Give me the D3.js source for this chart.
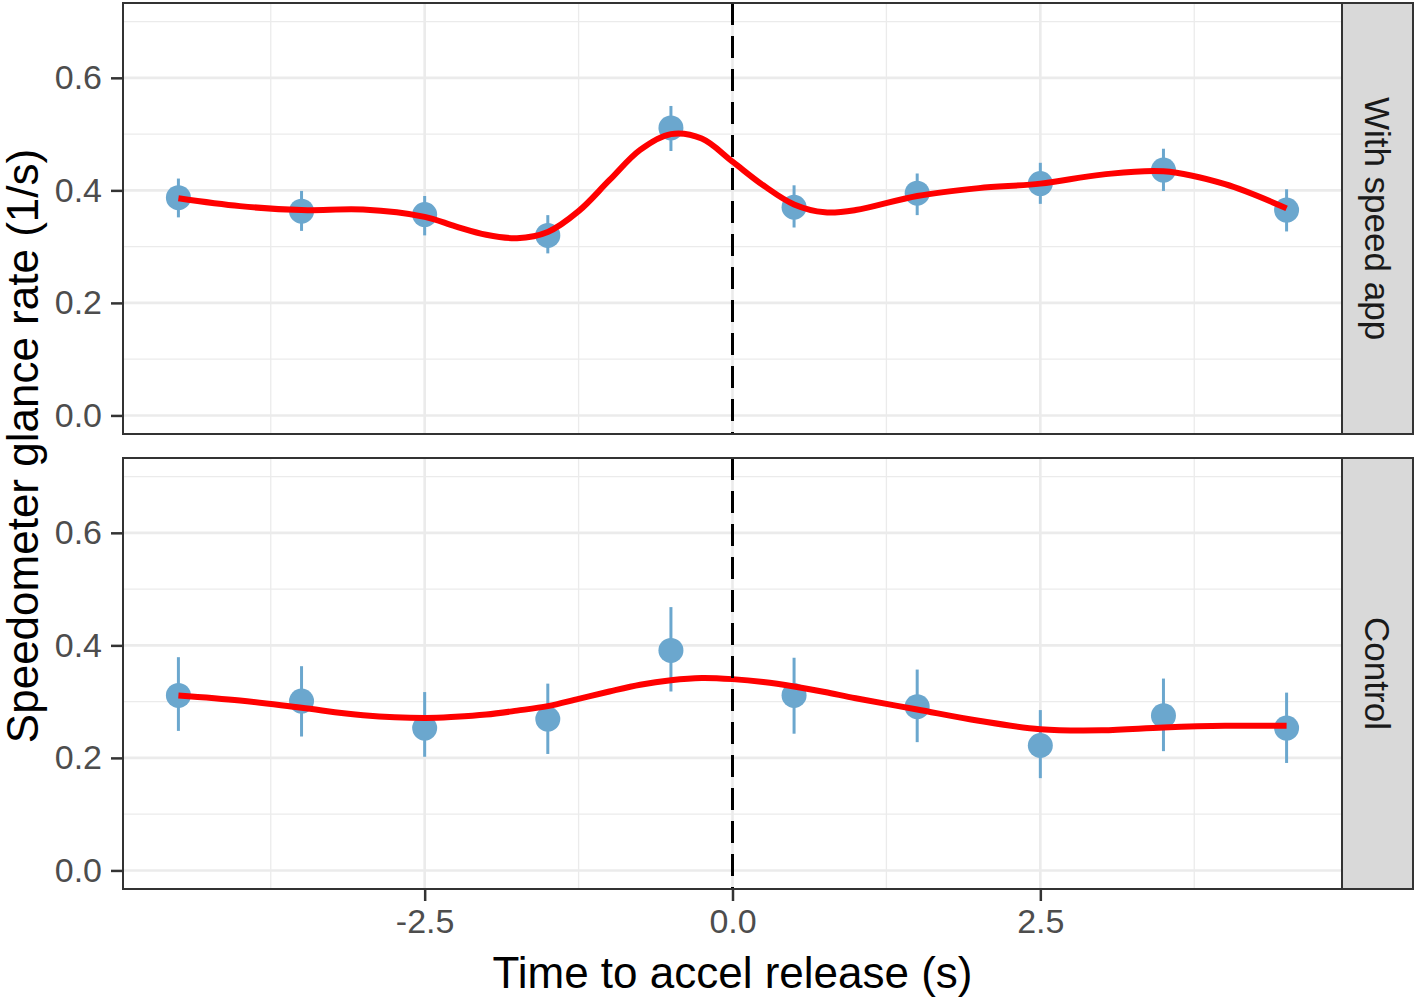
<!DOCTYPE html>
<html>
<head>
<meta charset="utf-8">
<script src="https://cdn.jsdelivr.net/npm/d3@7"></script>
<style>
  body { margin: 0; background: #fff; }
  text { font-family: "Liberation Sans", Arial, Helvetica, sans-serif; }
</style>
</head>
<body>
<div id="chart"></div>
<script>
// time bins (s) relative to accel release
var timeBins = [-4.5, -3.5, -2.5, -1.5, -0.5, 0.5, 1.5, 2.5, 3.5, 4.5];

// facet labels
var facetNames = ["With speed app", "Control"];

// glance rate means and error bar ends, with speed app
var appMean  = [0.387, 0.363, 0.357, 0.320, 0.511, 0.370, 0.395, 0.412, 0.436, 0.365];
var appLower = [0.352, 0.328, 0.320, 0.288, 0.470, 0.334, 0.356, 0.376, 0.399, 0.327];
var appUpper = [0.421, 0.399, 0.390, 0.356, 0.550, 0.409, 0.430, 0.449, 0.474, 0.402];

// control group
var ctrlMean  = [0.311, 0.301, 0.253, 0.269, 0.391, 0.311, 0.291, 0.222, 0.275, 0.253];
var ctrlLower = [0.248, 0.238, 0.202, 0.207, 0.318, 0.243, 0.228, 0.164, 0.212, 0.191];
var ctrlUpper = [0.379, 0.363, 0.317, 0.332, 0.468, 0.378, 0.357, 0.285, 0.341, 0.316];

// smoothed trend
var smoothX    = [-4.5, -4, -3.5, -3, -2.5, -2.25, -2, -1.75, -1.5, -1.25, -1, -0.75, -0.5, -0.25, 0, 0.25, 0.5, 0.75, 1, 1.5, 2, 2.5, 3, 3.5, 4, 4.5];
var appSmooth  = [0.386, 0.372, 0.365, 0.366, 0.353, 0.336, 0.321, 0.315, 0.326, 0.363, 0.418, 0.472, 0.500, 0.492, 0.451, 0.409, 0.375, 0.361, 0.365, 0.390, 0.404, 0.412, 0.428, 0.434, 0.411, 0.368];
var ctrlSmooth = [0.311, 0.302, 0.289, 0.276, 0.271, 0.273, 0.277, 0.284, 0.292, 0.305, 0.318, 0.330, 0.338, 0.342, 0.340, 0.335, 0.327, 0.317, 0.306, 0.286, 0.266, 0.251, 0.249, 0.254, 0.257, 0.257];

// tick values
var xTicks = [-2.5, 0, 2.5];
var xMinor = [-3.75, -1.25, 1.25, 3.75];
var yTicks = [0, 0.2, 0.4, 0.6];
var yMinor = [0.1, 0.3, 0.5, 0.7];

var svgWidth = 1418;
var svgHeight = 1002;

var panelLeft = 123;
var panelRight = 1342;
var stripWidth = 71;
var panelHeight = 431;
var panelTops = [3, 458];

var svg = d3.select("#chart")
  .append("svg")
  .attr("width", svgWidth)
  .attr("height", svgHeight);

var xScale = d3.scaleLinear()
  .domain([-4.95, 4.95])
  .range([panelLeft, panelRight]);

var panels = [
  { mean: appMean, lower: appLower, upper: appUpper, smooth: appSmooth },
  { mean: ctrlMean, lower: ctrlLower, upper: ctrlUpper, smooth: ctrlSmooth }
];

var pointColor = "#6ba7ce";

panels.forEach(function(p, i) {
  var top = panelTops[i];
  var yScale = d3.scaleLinear()
    .domain([-0.033, 0.733])
    .range([top + panelHeight, top]);

  var g = svg.append("g");

  // background
  g.append("rect")
    .attr("x", panelLeft)
    .attr("y", top)
    .attr("width", panelRight - panelLeft)
    .attr("height", panelHeight)
    .attr("fill", "white");

  // minor grid
  g.selectAll(".xminor")
    .data(xMinor)
    .enter()
    .append("line")
    .attr("x1", d => xScale(d))
    .attr("x2", d => xScale(d))
    .attr("y1", top)
    .attr("y2", top + panelHeight)
    .attr("stroke", "#ebebeb")
    .attr("stroke-width", 1.3);

  g.selectAll(".yminor")
    .data(yMinor)
    .enter()
    .append("line")
    .attr("x1", panelLeft)
    .attr("x2", panelRight)
    .attr("y1", d => yScale(d))
    .attr("y2", d => yScale(d))
    .attr("stroke", "#ebebeb")
    .attr("stroke-width", 1.3);

  // major grid
  g.selectAll(".xmajor")
    .data(xTicks)
    .enter()
    .append("line")
    .attr("x1", d => xScale(d))
    .attr("x2", d => xScale(d))
    .attr("y1", top)
    .attr("y2", top + panelHeight)
    .attr("stroke", "#ebebeb")
    .attr("stroke-width", 2.6);

  g.selectAll(".ymajor")
    .data(yTicks)
    .enter()
    .append("line")
    .attr("x1", panelLeft)
    .attr("x2", panelRight)
    .attr("y1", d => yScale(d))
    .attr("y2", d => yScale(d))
    .attr("stroke", "#ebebeb")
    .attr("stroke-width", 2.6);

  // error bars
  g.selectAll(".err")
    .data(timeBins)
    .enter()
    .append("line")
    .attr("x1", d => xScale(d))
    .attr("x2", d => xScale(d))
    .attr("y1", (d, k) => yScale(p.lower[k]))
    .attr("y2", (d, k) => yScale(p.upper[k]))
    .attr("stroke", pointColor)
    .attr("stroke-width", 3);

  // points
  g.selectAll(".pt")
    .data(timeBins)
    .enter()
    .append("circle")
    .attr("cx", d => xScale(d))
    .attr("cy", (d, k) => yScale(p.mean[k]))
    .attr("r", 12.5)
    .attr("fill", pointColor);

  // smooth
  var line = d3.line()
    .x(d => xScale(d))
    .y((d, k) => yScale(p.smooth[k]))
    .curve(d3.curveCatmullRom.alpha(0.5));

  g.append("path")
    .datum(smoothX)
    .attr("d", line)
    .attr("fill", "none")
    .attr("stroke", "#ff0000")
    .attr("stroke-width", 6);

  // dashed line at release
  g.append("line")
    .attr("x1", xScale(0))
    .attr("x2", xScale(0))
    .attr("y1", top)
    .attr("y2", top + panelHeight)
    .attr("stroke", "black")
    .attr("stroke-width", 3)
    .attr("stroke-dasharray", "22,11");

  // panel border
  g.append("rect")
    .attr("x", panelLeft)
    .attr("y", top)
    .attr("width", panelRight - panelLeft)
    .attr("height", panelHeight)
    .attr("fill", "none")
    .attr("stroke", "#333333")
    .attr("stroke-width", 2);

  // strip
  g.append("rect")
    .attr("x", panelRight)
    .attr("y", top)
    .attr("width", stripWidth)
    .attr("height", panelHeight)
    .attr("fill", "#d9d9d9")
    .attr("stroke", "#333333")
    .attr("stroke-width", 2);

  g.append("text")
    .attr("transform", `translate(${panelRight + stripWidth / 2}, ${top + panelHeight / 2}) rotate(90)`)
    .attr("text-anchor", "middle")
    .attr("dominant-baseline", "central")
    .attr("font-size", 35)
    .attr("fill", "#1a1a1a")
    .text(facetNames[i]);

  // y axis
  var leftAxis = d3.axisLeft(yScale)
    .tickValues(yTicks)
    .tickFormat(d => d.toFixed(1))
    .tickSize(11)
    .tickPadding(9);

  var yAxisG = g.append("g")
    .attr("transform", `translate(${panelLeft - 1}, 0)`)
    .call(leftAxis);
  yAxisG.select(".domain").remove();
  yAxisG.selectAll("line").attr("stroke", "#333333").attr("stroke-width", 2.5);
  yAxisG.selectAll("text")
    .attr("font-size", 34)
    .attr("fill", "#4d4d4d")
    .attr("font-family", "Liberation Sans, Arial, sans-serif");

  // x axis only under the bottom panel
  if (i === panels.length - 1) {
    var bottomAxis = d3.axisBottom(xScale)
      .tickValues(xTicks)
      .tickFormat(d => d.toFixed(1))
      .tickSize(11)
      .tickPadding(8);

    var xAxisG = g.append("g")
      .attr("transform", `translate(0, ${top + panelHeight + 1})`)
      .call(bottomAxis);
    xAxisG.select(".domain").remove();
    xAxisG.selectAll("line").attr("stroke", "#333333").attr("stroke-width", 2.5);
    xAxisG.selectAll("text")
      .attr("font-size", 34)
      .attr("fill", "#4d4d4d")
      .attr("font-family", "Liberation Sans, Arial, sans-serif");
  }
});

// axis titles
svg.append("text")
  .attr("x", (panelLeft + panelRight) / 2)
  .attr("y", 988)
  .attr("text-anchor", "middle")
  .attr("font-size", 44)
  .attr("fill", "black")
  .text("Time to accel release (s)");

svg.append("text")
  .attr("transform", `translate(38, ${(panelTops[0] + panelTops[1] + panelHeight) / 2}) rotate(-90)`)
  .attr("text-anchor", "middle")
  .attr("font-size", 44)
  .attr("fill", "black")
  .text("Speedometer glance rate (1/s)");
</script>
</body>
</html>
